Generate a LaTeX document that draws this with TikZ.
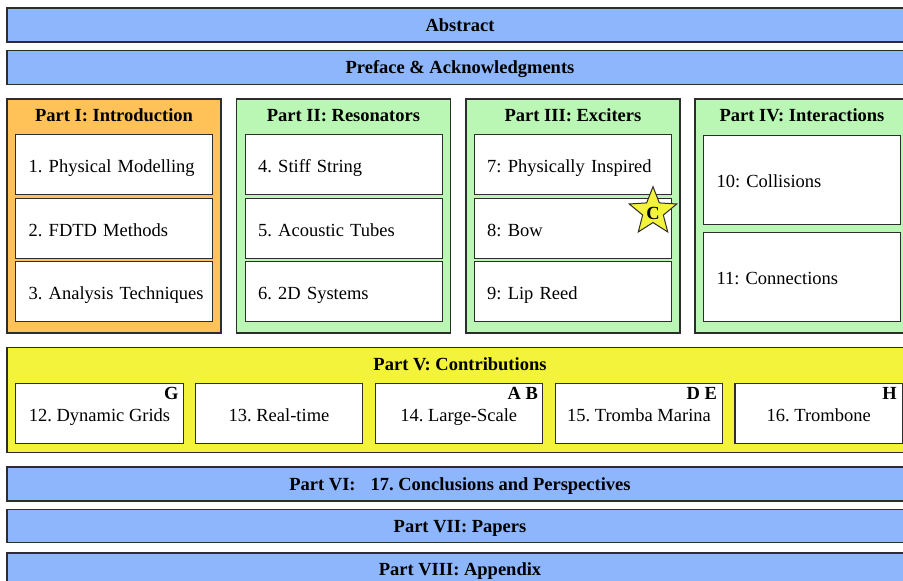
\documentclass[tikz,border=0pt]{standalone}
\usepackage{fontspec}
\setmainfont{Liberation Serif}
\usetikzlibrary{shapes.geometric}
\definecolor{barblue}{RGB}{141,182,252}
\definecolor{partorange}{RGB}{255,194,88}
\definecolor{partgreen}{RGB}{186,247,180}
\definecolor{partyellow}{RGB}{243,243,60}
\definecolor{linec}{RGB}{45,45,45}
\newcommand\diagfs{\fontsize{18.5}{22}\selectfont\frenchspacing}
\begin{document}
\begin{tikzpicture}[x=1pt,y=-1pt,
  frame/.style={draw=linec, line width=1.1pt, inner sep=0pt, outer sep=0pt, text=black, font=\diagfs},
  bar/.style={frame, fill=barblue, minimum width=906pt, font=\diagfs\bfseries, text height=12pt, text depth=0pt},
  partbox/.style={frame, minimum width=214pt, minimum height=234pt},
  subbox/.style={frame, fill=white, text width=171pt, inner xsep=13pt, align=left, minimum height=60pt, text height=15.4pt, text depth=0pt},
  contrib/.style={frame, fill=white, minimum width=167.5pt, minimum height=60pt, text height=15.4pt, text depth=0pt},
  title/.style={font=\diagfs\bfseries, anchor=base, inner sep=0pt, text=black},
  tag/.style={font=\diagfs\bfseries, anchor=base east, inner sep=0pt, text=black},
  starmark/.style={star, star points=5, star point ratio=2.3, minimum size=50pt, inner sep=0pt, fill=partyellow, draw=linec, line width=1pt}
]
\clip (0,0) rectangle (903,581);
\fill[white] (0,0) rectangle (903,581);

% top bars
\node[bar, minimum height=34pt] (abs) at (460,25) {Abstract};
\node[bar, minimum height=33.5pt] (pref) at (460,67.5) {Preface \& Acknowledgments};

% part boxes
\node[partbox, fill=partorange] (p1) at (114,216) {};
\node[partbox, fill=partgreen] (p2) at (343.5,216) {};
\node[partbox, fill=partgreen] (p3) at (573,216) {};
\node[partbox, fill=partgreen] (p4) at (802,216) {};

\node[title] (t1) at (114,121) {Part I: Introduction};
\node[title] (t2) at (343.5,121) {Part II: Resonators};
\node[title] (t3) at (573,121) {Part III: Exciters};
\node[title] (t4) at (802,121) {Part IV: Interactions};

\node[subbox] (s1) at (114.2,164.7) {\mbox{1. Physical Modelling}};
\node[subbox] (s2) at (114.2,228.3) {\mbox{2. FDTD Methods}};
\node[subbox] (s3) at (114.2,291.7) {\mbox{3. Analysis Techniques}};

\node[subbox] (s4) at (343.7,164.7) {\mbox{4. Stiff String}};
\node[subbox] (s5) at (343.7,228.3) {\mbox{5. Acoustic Tubes}};
\node[subbox] (s6) at (343.7,291.7) {\mbox{6. 2D Systems}};

\node[subbox] (s7) at (572.7,164.7) {\mbox{7: Physically Inspired}};
\node[subbox] (s8) at (572.7,228.3) {\mbox{8: Bow}};
\node[subbox] (s9) at (572.7,291.7) {\mbox{9: Lip Reed}};

\node[subbox, minimum height=89.3pt] (s10) at (802,179.7) {\mbox{10: Collisions}};
\node[subbox, minimum height=88.7pt] (s11) at (802,276.7) {\mbox{11: Connections}};

\node[starmark] (star) at (653,211.7) {};
\node[font=\diagfs\bfseries, inner sep=0pt, text=black] (starC) at (653,213) {C};

% part V
\node[frame, fill=partyellow, minimum width=906pt, minimum height=105pt] (p5) at (460,399.8) {};
\node[title] (t5) at (460,370) {Part V: Contributions};
\node[contrib] (c12) at (99.5,413.3) {12. Dynamic Grids};
\node[contrib] (c13) at (279,413.3) {13. Real-time};
\node[contrib] (c14) at (458.8,413.3) {14. Large-Scale};
\node[contrib] (c15) at (639,413.3) {15. Tromba Marina};
\node[contrib] (c16) at (818.7,413.3) {16. Trombone};
\node[tag] (g12) at ([xshift=-4.5pt,yshift=-16.5pt]c12.north east) {G};
\node[tag] (g14) at ([xshift=-4.5pt,yshift=-16.5pt]c14.north east) {A B};
\node[tag] (g15) at ([xshift=-5.5pt,yshift=-16.5pt]c15.north east) {D E};
\node[tag] (g16) at ([xshift=-5.5pt,yshift=-16.5pt]c16.north east) {H};

% bottom bars
\node[bar, minimum height=34pt] (p6) at (460,484) {Part VI:\hspace{15pt}17. Conclusions and Perspectives};
\node[bar, minimum height=33.5pt] (p7) at (460,526) {Part VII: Papers};
\node[bar, minimum height=34pt, text height=10.5pt] (p8) at (460,570) {Part VIII: Appendix};
\end{tikzpicture}
\end{document}
